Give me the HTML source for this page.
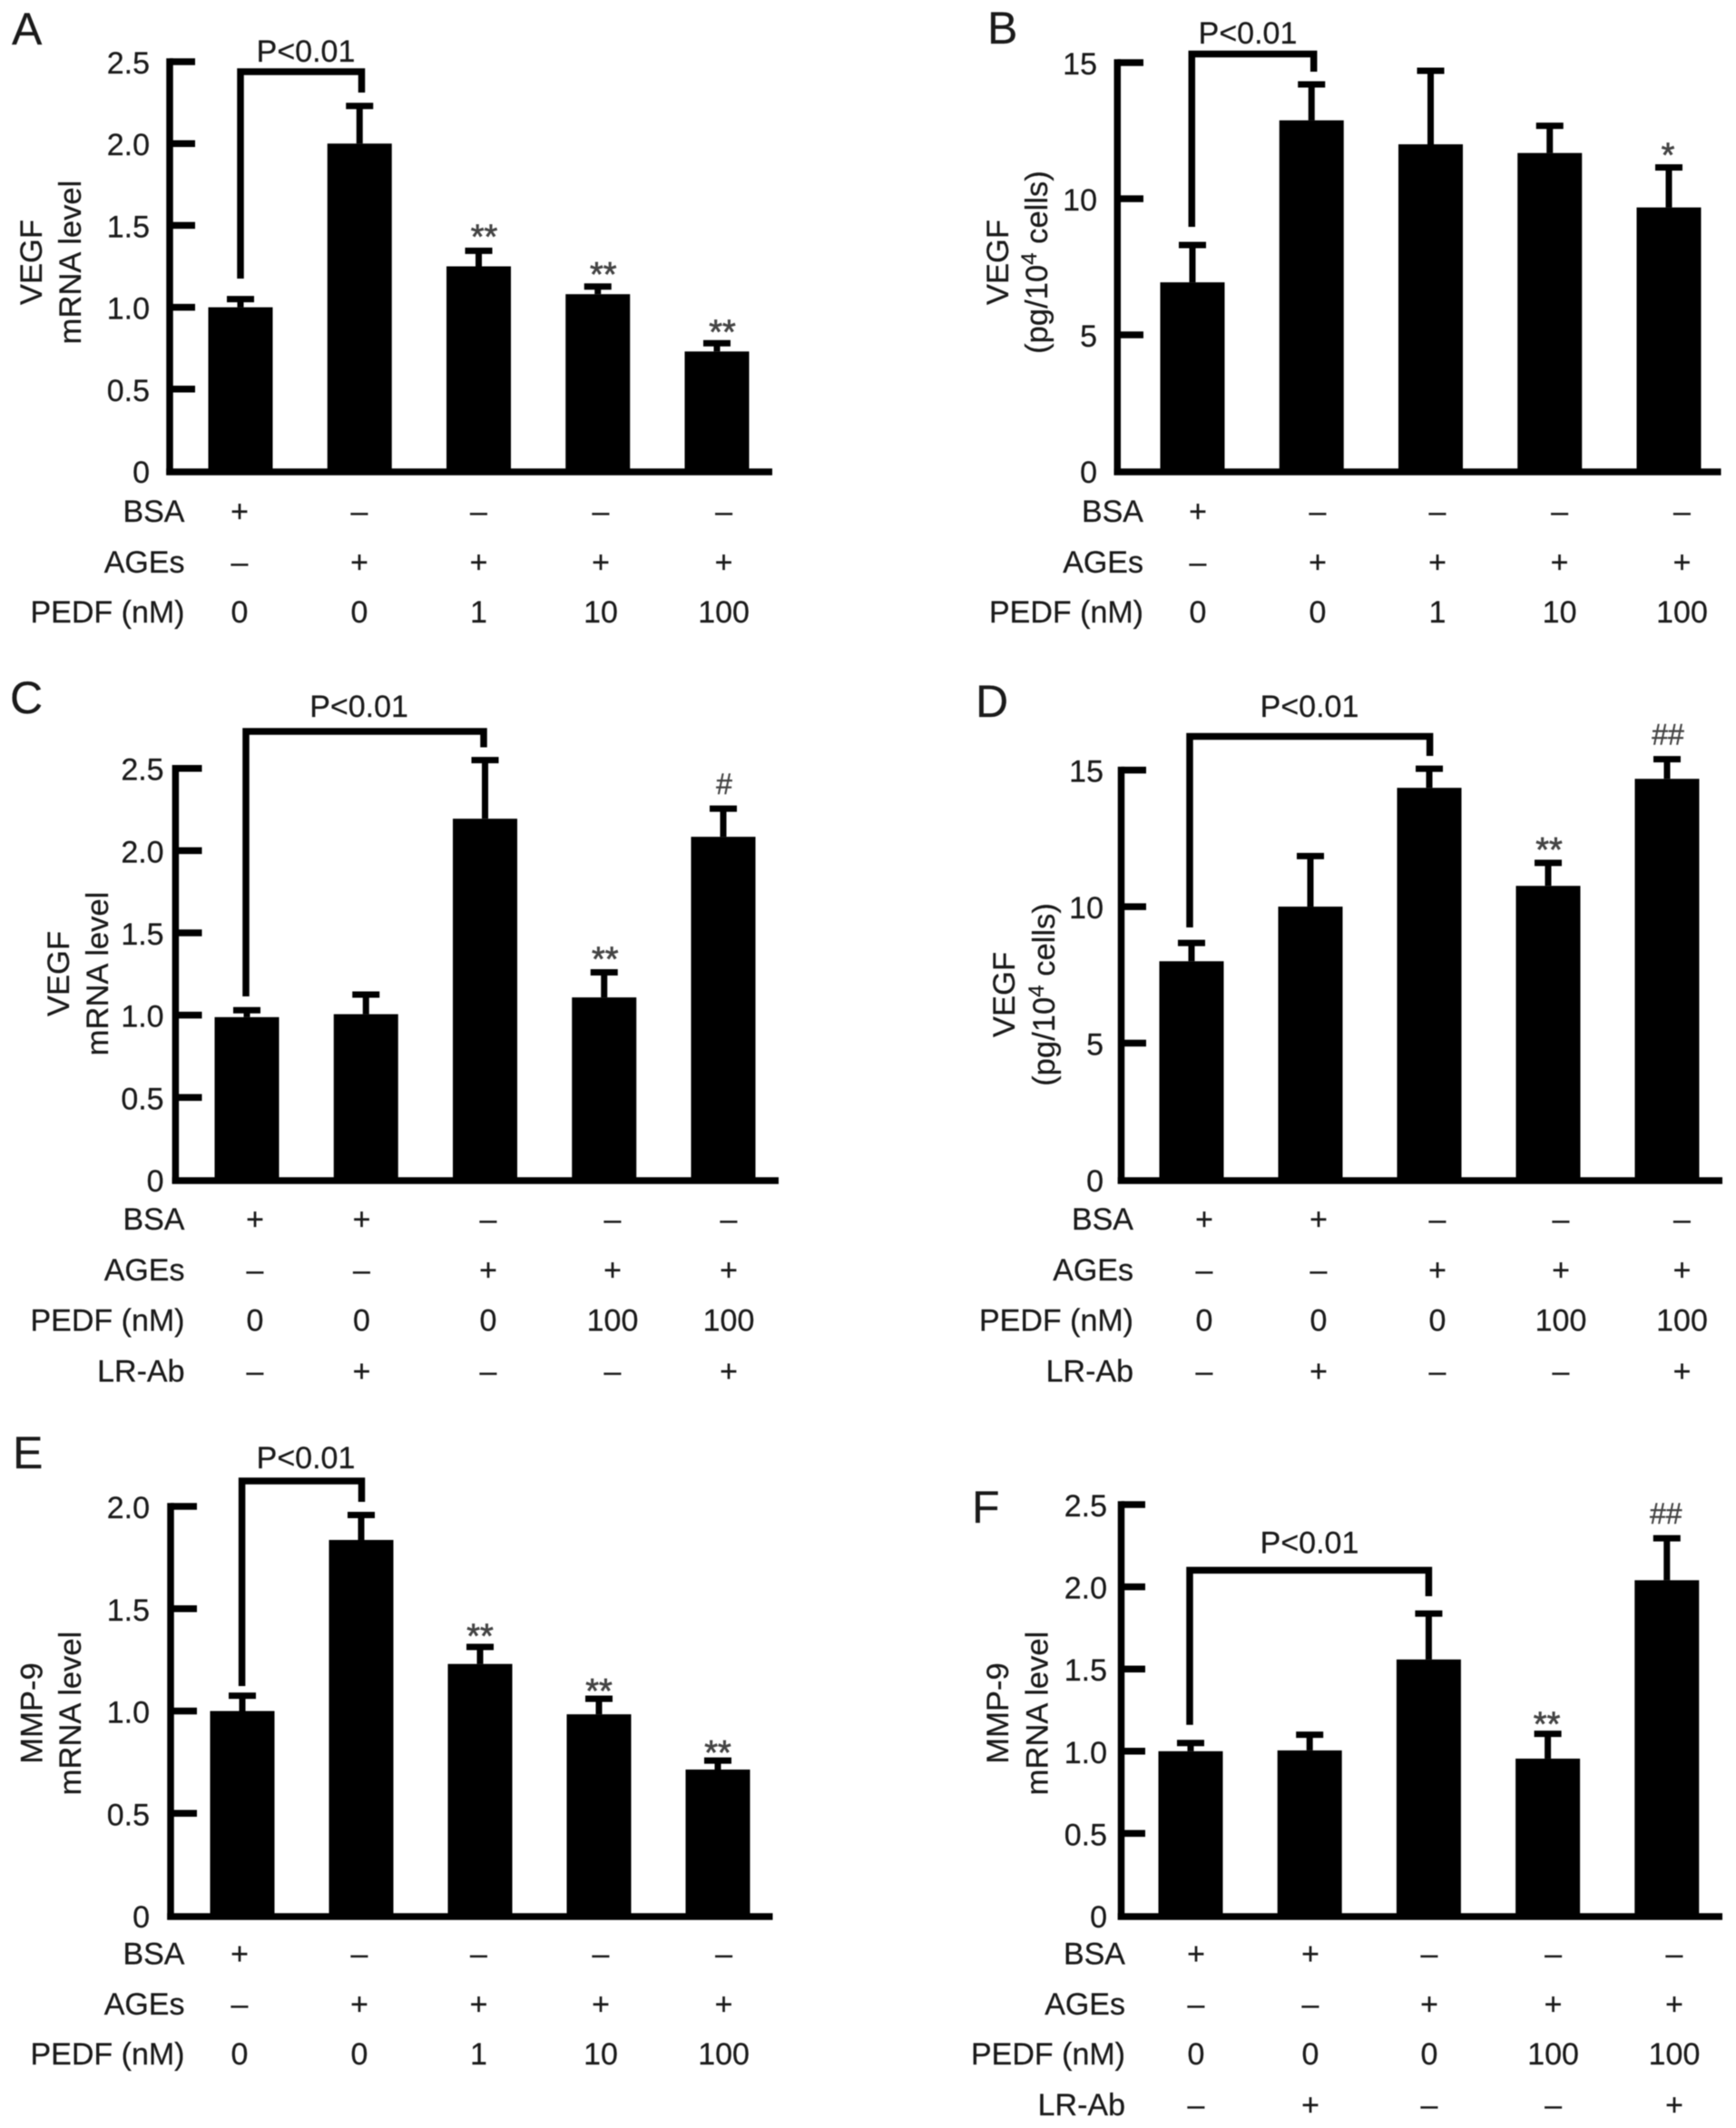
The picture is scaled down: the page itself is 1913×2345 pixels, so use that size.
<!DOCTYPE html>
<html lang="en">
<head>
<meta charset="utf-8">
<title>VEGF and MMP-9 levels, panels A-F</title>
<style>
html,body{margin:0;padding:0;background:#fff;width:1913px;height:2345px;overflow:hidden}
svg{display:block;filter:blur(0.5px)}
text{font-family:"Liberation Sans",Arial,sans-serif;fill:#1a1a1a;font-size:34px;stroke:#1a1a1a;stroke-width:0.25px}
</style>
</head>
<body>
<svg id="figure" xmlns="http://www.w3.org/2000/svg" width="1913" height="2345" viewBox="0 0 1913 2345"></svg>
<script>
// ---- chart data ----
const aValues = [1.0, 2.0, 1.25, 1.08, 0.73];
const aErrorTops = [1.05, 2.23, 1.345, 1.127, 0.78];
const aMarks = ['', '', '**', '**', '**'];
const aTicks = ['0', '0.5', '1.0', '1.5', '2.0', '2.5'];

const bValues = [6.93, 12.88, 12.0, 11.68, 9.68];
const bErrorTops = [8.3, 14.2, 14.7, 12.68, 11.15];
const bMarks = ['', '', '', '', '*'];
const bTicks = ['0', '5', '10', '15'];

const cValues = [0.988, 1.006, 2.194, 1.108, 2.084];
const cErrorTops = [1.03, 1.125, 2.55, 1.26, 2.255];
const cMarks = ['', '', '', '**', '#'];
const cTicks = ['0', '0.5', '1.0', '1.5', '2.0', '2.5'];

const dValues = [8.0, 10.0, 14.35, 10.76, 14.68];
const dErrorTops = [8.67, 11.85, 15.05, 11.6, 15.4];
const dMarks = ['', '', '', '**', '##'];
const dTicks = ['0', '5', '10', '15'];

const eValues = [1.0, 1.836, 1.23, 0.984, 0.714];
const eErrorTops = [1.075, 1.958, 1.313, 1.06, 0.758];
const eMarks = ['', '', '**', '**', '**'];
const eTicks = ['0', '0.5', '1.0', '1.5', '2.0'];

const fValues = [1.0, 1.005, 1.558, 0.955, 2.04];
const fErrorTops = [1.05, 1.10, 1.837, 1.106, 2.295];
const fMarks = ['', '', '', '**', '##'];
const fTicks = ['0', '0.5', '1.0', '1.5', '2.0', '2.5'];

const doseRowNames = ['BSA', 'AGEs', 'PEDF (nM)'];
const doseRowBsa = ['+', '\u2013', '\u2013', '\u2013', '\u2013'];
const doseRowAges = ['\u2013', '+', '+', '+', '+'];
const doseRowPedf = ['0', '0', '1', '10', '100'];

const abRowNames = ['BSA', 'AGEs', 'PEDF (nM)', 'LR-Ab'];
const abRowBsa = ['+', '+', '\u2013', '\u2013', '\u2013'];
const abRowAges = ['\u2013', '\u2013', '+', '+', '+'];
const abRowPedf = ['0', '0', '0', '100', '100'];
const abRowLr = ['\u2013', '+', '\u2013', '\u2013', '+'];

// ---- panel layout ----
const panels = [
 {id:'A', letterX:13, letterY:49, axisX:187, tickEnd:215, y0:519, yTop:68, axisMax:2.5, xEnd:851, bar0:265, barStep:131.25,
  values:aValues, errs:aErrorTops, marks:aMarks, ticks:aTicks, tickRight:165, markDx:6, starGap:[0,0,20,17.5,17],
  t1:'VEGF', t2:'mRNA level', t1x:34, t2x:77, titleY:289,
  brk:[265,307,79,398.5,102], pX:337, pY:68,
  rowNames:doseRowNames, rows:[doseRowBsa,doseRowAges,doseRowPedf], rowRight:203.5, rowY:[575,631,686], cells:[264,396,527.5,662,797.6]},
 {id:'B', letterX:1088, letterY:48, axisX:1231.3, tickEnd:1260, y0:519, yTop:69, axisMax:15, xEnd:1896.5, bar0:1314, barStep:131.25,
  values:bValues, errs:bErrorTops, marks:bMarks, ticks:bTicks, tickRight:1209, markDx:-1, starGap:[0,0,0,0,18],
  t1:'VEGF', t2:'sup', t1x:1099, t2x:1142, titleY:289,
  brk:[1313.3,250,59.5,1447.7,79], pX:1375, pY:48,
  rowNames:doseRowNames, rows:[doseRowBsa,doseRowAges,doseRowPedf], rowRight:1260, rowY:[575,631,686], cells:[1320,1452,1584,1718.6,1853.5]},
 {id:'C', letterX:11, letterY:786, axisX:193.4, tickEnd:222.5, y0:1300, yTop:846.7, axisMax:2.5, xEnd:858, bar0:272, barStep:131.25,
  values:cValues, errs:cErrorTops, marks:cMarks, ticks:cTicks, tickRight:180.6, markDx:1, starGap:[0,0,0,19,0],
  t1:'VEGF', t2:'mRNA level', t1x:64, t2x:107, titleY:1073,
  brk:[271,1098,806,533,823.5], pX:395.6, pY:790,
  rowNames:abRowNames, rows:[abRowBsa,abRowAges,abRowPedf,abRowLr], rowRight:203.5, rowY:[1355,1411,1466.5,1522.5], cells:[281,398.5,538,675,803]},
 {id:'D', letterX:1075, letterY:790, axisX:1235.5, tickEnd:1263, y0:1300, yTop:848.6, axisMax:15, xEnd:1898, bar0:1313, barStep:131,
  values:dValues, errs:dErrorTops, marks:dMarks, ticks:dTicks, tickRight:1216, markDx:1, starGap:[0,0,0,19,0],
  t1:'VEGF', t2:'sup', t1x:1106, t2x:1150, titleY:1096,
  brk:[1311,1022,811.5,1575.6,833], pX:1443, pY:790,
  rowNames:abRowNames, rows:[abRowBsa,abRowAges,abRowPedf,abRowLr], rowRight:1249, rowY:[1355,1411,1466.5,1522.5], cells:[1327,1453,1584,1720,1853.5]},
 {id:'E', letterX:14, letterY:1618, axisX:188, tickEnd:217, y0:2111, yTop:1660, axisMax:2.0, xEnd:851.5, bar0:267, barStep:131,
  values:eValues, errs:eErrorTops, marks:eMarks, ticks:eTicks, tickRight:165, markDx:0, starGap:[0,0,16.5,13,13],
  t1:'MMP-9', t2:'mRNA level', t1x:34.4, t2x:77, titleY:1888,
  brk:[266.6,1858,1632,398.5,1655], pX:337, pY:1618,
  rowNames:doseRowNames, rows:[doseRowBsa,doseRowAges,doseRowPedf], rowRight:203.5, rowY:[2164.5,2220,2275], cells:[264,396,527.5,662,797.6]},
 {id:'F', letterX:1071, letterY:1678, axisX:1235.5, tickEnd:1262, y0:2111, yTop:1658, axisMax:2.5, xEnd:1898, bar0:1312, barStep:131.2,
  values:fValues, errs:fErrorTops, marks:fMarks, ticks:fTicks, tickRight:1220, markDx:-1, starGap:[0,0,0,15,0],
  t1:'MMP-9', t2:'mRNA level', t1x:1099, t2x:1142.4, titleY:1888,
  brk:[1311,1900.7,1730.4,1574.4,1759], pX:1443, pY:1711.6,
  rowNames:abRowNames, rows:[abRowBsa,abRowAges,abRowPedf,abRowLr], rowRight:1240, rowY:[2164.5,2220,2275,2331], cells:[1318,1444,1575,1711.6,1845]}
];

const NS = 'http://www.w3.org/2000/svg';
const svg = document.getElementById('figure');
function mk(tag, parent, props, txt) {
  const n = document.createElementNS(NS, tag);
  for (const k in props) n.setAttribute(k, props[k]);
  if (txt !== undefined) n.textContent = txt;
  parent.appendChild(n);
  return n;
}
const INK = '#000';

panels.forEach(function (p) {
  const g = mk('g', svg, {});
  
  

  const yOf = function (v) { return p.y0 - v * (p.y0 - p.yTop) / p.axisMax; };
  const xOf = function (i) { return p.bar0 + i * p.barStep; };

  const letter = mk('text', g, {x: p.letterX, y: p.letterY, style: 'font-size:50px'}, p.id);
  
  

  // bars and error bars
  p.values.forEach(function (v, i) {
    const bar = mk('rect', g, {x: xOf(i) - 35.5, y: yOf(v), width: 71, height: p.y0 - yOf(v), fill: INK});
    
    

    const stem = mk('line', g, {x1: xOf(i), x2: xOf(i), y1: yOf(v), y2: yOf(p.errs[i]), stroke: INK, 'stroke-width': 7});
    
    

    const cap = mk('line', g, {x1: xOf(i) - 15, x2: xOf(i) + 15, y1: yOf(p.errs[i]), y2: yOf(p.errs[i]), stroke: INK, 'stroke-width': 7});
    
    

    const m = p.marks[i];
    if (m) {
      const isStar = m.charAt(0) === '*';
      const top = yOf(p.errs[i]);
      const my = isStar ? top - p.starGap[i] + 17 : top - 27 + 11;
      const mark = mk('text', g, {x: xOf(i) + p.markDx, y: my, 'text-anchor': 'middle',
        style: (isStar ? 'font-size:38px;stroke-width:0.7px' : 'font-size:32px;stroke-width:0.4px') + ';fill:#444;stroke:#444'}, m);
      
      
    }
  });

  // axes
  const yAxis = mk('line', g, {x1: p.axisX, x2: p.axisX, y1: p.yTop - 3.75, y2: p.y0 + 4.5, stroke: INK, 'stroke-width': 7.5});
  
  

  const xAxis = mk('line', g, {x1: p.axisX - 3.75, x2: p.xEnd, y1: p.y0 + 1, y2: p.y0 + 1, stroke: INK, 'stroke-width': 7.5});
  
  

  p.ticks.forEach(function (t) {
    const val = parseFloat(t);
    const ty = yOf(val);
    if (val !== 0) {
      const tick = mk('line', g, {x1: p.axisX, x2: p.tickEnd, y1: ty, y2: ty, stroke: INK, 'stroke-width': 7.5});
      
      
    }

    const lab = mk('text', g, {x: p.tickRight, y: ty + 13, 'text-anchor': 'end'}, t);
    
    
  });

  // y axis titles
  const t1 = mk('text', g, {transform: 'translate(' + (p.t1x + 12) + ',' + p.titleY + ') rotate(-90)', 'text-anchor': 'middle', style: 'font-size:34.6px'}, p.t1);
  
  

  const t2 = mk('text', g, {transform: 'translate(' + (p.t2x + 12) + ',' + p.titleY + ') rotate(-90)', 'text-anchor': 'middle', style: 'font-size:34.6px'});
  
  
  if (p.t2 === 'sup') {
    mk('tspan', t2, {}, '(pg/10');
    mk('tspan', t2, {dy: -12, style: 'font-size:24px'}, '4');
    mk('tspan', t2, {dy: 12}, ' cells)');
  } else {
    t2.textContent = p.t2;
  }

  // significance bracket
  const b = p.brk;
  const brk = mk('path', g, {d: 'M' + b[0] + ' ' + b[1] + 'V' + b[2] + 'H' + b[3] + 'V' + b[4], fill: 'none', stroke: INK, 'stroke-width': 7.5});
  
  

  const pv = mk('text', g, {x: p.pX, y: p.pY, 'text-anchor': 'middle'}, 'P<0.01');
  
  

  // treatment table
  p.rowNames.forEach(function (name, r) {
    const rl = mk('text', g, {x: p.rowRight, y: p.rowY[r], 'text-anchor': 'end'}, name);
    
    

    p.rows[r].forEach(function (val, c) {
      const cell = mk('text', g, {x: p.cells[c], y: p.rowY[r], 'text-anchor': 'middle'}, val);
      
      
    });
  });
});
</script>
</body>
</html>
